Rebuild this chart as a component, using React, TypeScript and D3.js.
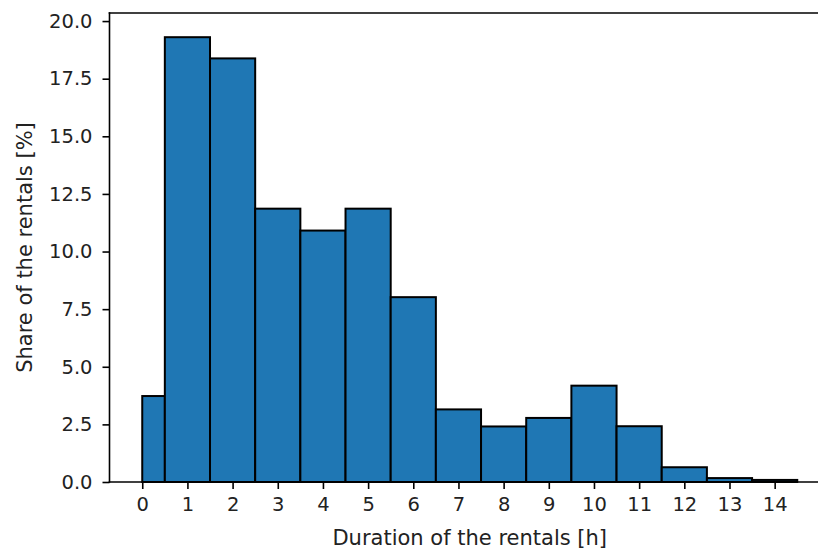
import { useEffect, useRef } from 'react';
import * as d3 from 'd3';

// histogram bins (hours) and share of rentals per bin [%]
const binEdges = [0, 0.5, 1.5, 2.5, 3.5, 4.5, 5.5, 6.5, 7.5, 8.5, 9.5, 10.5, 11.5, 12.5, 13.5, 14.5];
const shares = [3.73, 19.3, 18.38, 11.86, 10.91, 11.86, 8.02, 3.15, 2.41, 2.78, 4.18, 2.42, 0.64, 0.17, 0.09];
const xTicks = d3.range(0, 15);
const yTicks = [0, 2.5, 5, 7.5, 10, 12.5, 15, 17.5, 20];

const W = 818;
const H = 554;
const FONT = '"DejaVu Sans", sans-serif';

const App = () => {
  const ref = useRef<SVGSVGElement>(null);

  useEffect(() => {
    const svg = d3.select(ref.current);
    svg.selectAll('*').remove();

    const left = 109.5;
    const right = 830;
    const top = 13;
    const bottom = 482;

    const x = d3.scaleLinear().domain([-0.725, 15.225]).range([left, right]);
    const y = d3.scaleLinear().domain([0, 20.35]).range([bottom, top]);

    const bars = shares.map((v, i) => ({ x0: binEdges[i], x1: binEdges[i + 1], v }));

    svg.append('g')
      .selectAll('rect')
      .data(bars)
      .enter()
      .append('rect')
      .attr('x', d => x(d.x0))
      .attr('y', d => y(d.v))
      .attr('width', d => x(d.x1) - x(d.x0))
      .attr('height', d => bottom - y(d.v))
      .attr('fill', '#1f77b4')
      .attr('stroke', '#000')
      .attr('stroke-width', 2);

    const xAxis = d3.axisBottom(x).tickValues(xTicks).tickFormat(d => String(d)).tickSizeOuter(0).tickSize(7).tickPadding(8);
    const yAxis = d3.axisLeft(y).tickValues(yTicks).tickFormat(d3.format('.1f')).tickSizeOuter(0).tickSize(7).tickPadding(10);

    const gx = svg.append('g').attr('transform', `translate(0,${bottom})`).call(xAxis);
    const gy = svg.append('g').attr('transform', `translate(${left},0)`).call(yAxis);

    [gx, gy].forEach(g => {
      g.select('.domain').remove();
      g.selectAll('line').attr('stroke', '#000').attr('stroke-width', 1.6);
      g.selectAll('text').attr('fill', '#222').style('font-family', FONT).style('font-size', '19.5px');
    });

    // spines
    const spine = (x1: number, y1: number, x2: number, y2: number) =>
      svg.append('line')
        .attr('x1', x1).attr('y1', y1).attr('x2', x2).attr('y2', y2)
        .attr('stroke', '#000').attr('stroke-width', 1.6).attr('stroke-linecap', 'square');
    spine(left, top, left, bottom);
    spine(left, bottom, right, bottom);
    spine(left, top, right, top);
    spine(right, top, right, bottom);

    svg.append('text')
      .attr('x', (left + right) / 2)
      .attr('y', 545)
      .attr('text-anchor', 'middle')
      .attr('fill', '#222')
      .style('font-family', FONT)
      .style('font-size', '21px')
      .text('Duration of the rentals [h]');

    svg.append('text')
      .attr('transform', `translate(32,${(top + bottom) / 2}) rotate(-90)`)
      .attr('text-anchor', 'middle')
      .attr('fill', '#222')
      .style('font-family', FONT)
      .style('font-size', '21px')
      .text('Share of the rentals [%]');
  }, []);

  return (
    <svg
      ref={ref}
      width={W}
      height={H}
      style={{ position: 'absolute', left: 0, top: 0, background: '#fff' }}
    />
  );
};

export default App;
